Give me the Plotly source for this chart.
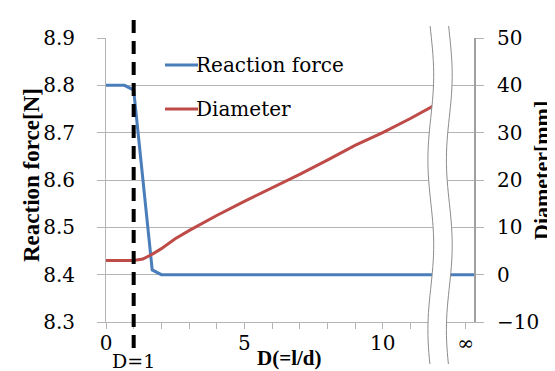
import numpy as np
import plotly.graph_objects as go

# ---- data ----
force_x = [0, 0.67, 1, 1.67, 2, 3, 4, 5, 6, 7, 8, 9, 10, 11, 12, 13.3]
force_y = [8.80, 8.80, 8.79, 8.41, 8.40, 8.40, 8.40, 8.40, 8.40, 8.40, 8.40, 8.40, 8.40, 8.40, 8.40, 8.40]

diam_x = [0, 0.67, 1, 1.33, 1.67, 2, 2.5, 3, 4, 5, 6, 7, 8, 9, 10, 11, 12]
diam_y = [3.0, 3.0, 3.0, 3.3, 4.3, 5.5, 7.6, 9.3, 12.5, 15.5, 18.3, 21.2, 24.2, 27.3, 30.0, 33.0, 36.2]

x_tick_vals = list(range(0, 14))
x_tick_text = ['0', '', '', '', '', '5', '', '', '', '', '10', '', '', '\u221e']
y1_ticks = [8.3, 8.4, 8.5, 8.6, 8.7, 8.8, 8.9]
y2_ticks = [-10, 0, 10, 20, 30, 40, 50]

BLUE = '#4a7ebb'
RED = '#be4b48'
GRID = '#b4b4b4'
REG = 'DejaVu Serif'          # regular serif face available
BOLD = 'Liberation Serif'     # bold serif face available

W, H = 555, 371
L, R, T, B = 98, 89, 30, 57
PW, PH = W - L - R, H - T - B
XMAX = 13.3


def px2x(px):
    return (px - L) / PW * XMAX


def py2paper(py):
    return (H - B - py) / PH


fig = go.Figure()
fig.add_trace(go.Scatter(x=force_x, y=force_y, mode='lines', name='Reaction force',
                         line=dict(color=BLUE, width=3), yaxis='y'))
fig.add_trace(go.Scatter(x=diam_x, y=diam_y, mode='lines', name='Diameter',
                         line=dict(color=RED, width=3), yaxis='y2'))

shapes = []
shapes.append(dict(type='line', xref='x', yref='paper', x0=1, x1=1,
                   y0=py2paper(12), y1=py2paper(343),
                   line=dict(color='black', width=4, dash='13px,8px')))

ys = np.linspace(18, 356, 60)
lx = 422.8 + 2.9 * np.cos(2 * np.pi * (ys - 67) / 170)
rx = lx + 18.5
left_pts = [(px2x(a), py2paper(b)) for a, b in zip(lx, ys)]
right_pts = [(px2x(a), py2paper(b)) for a, b in zip(rx, ys)]


def pth(pts, close=False):
    s = 'M ' + ' L '.join(f'{a:.4f},{b:.4f}' for a, b in pts)
    return s + (' Z' if close else '')


shapes.append(dict(type='path', xref='x', yref='paper',
                   path=pth(left_pts + right_pts[::-1], close=True),
                   fillcolor='white', line=dict(width=0), layer='above'))
shapes.append(dict(type='path', xref='x', yref='paper', path=pth(left_pts),
                   line=dict(color='#8c8c8c', width=1), layer='above'))
shapes.append(dict(type='path', xref='x', yref='paper', path=pth(right_pts),
                   line=dict(color='#8c8c8c', width=1), layer='above'))

for yy, col in [(57, BLUE), (101, RED)]:
    shapes.append(dict(type='line', xref='paper', yref='paper',
                       x0=(157 - L) / PW, x1=(190 - L) / PW,
                       y0=py2paper(yy), y1=py2paper(yy),
                       line=dict(color=col, width=3)))

annotations = [
    dict(text='Reaction force', xref='paper', yref='paper', x=(186 - L) / PW, y=py2paper(57),
         xanchor='left', yanchor='middle', showarrow=False, font=dict(family=REG, size=20, color='black')),
    dict(text='Diameter', xref='paper', yref='paper', x=(186 - L) / PW, y=py2paper(101),
         xanchor='left', yanchor='middle', showarrow=False, font=dict(family=REG, size=20, color='black')),
    dict(text='<b>Reaction force[N]</b>', xref='paper', yref='paper', x=(23 - L) / PW, y=py2paper(167),
         xanchor='center', yanchor='middle', textangle=-90, showarrow=False,
         font=dict(family=BOLD, size=23, color='black')),
    dict(text='<b>Diameter[mm]</b>', xref='paper', yref='paper', x=(533 - L) / PW, y=py2paper(163),
         xanchor='center', yanchor='middle', textangle=-90, showarrow=False,
         font=dict(family=BOLD, size=22, color='black')),
    dict(text='<b>D(=l/d)</b>', xref='paper', yref='paper', x=(281 - L) / PW, y=py2paper(350),
         xanchor='center', yanchor='middle', showarrow=False, font=dict(family=BOLD, size=21, color='black')),
    dict(text='D=1', xref='x', yref='paper', x=1, y=py2paper(353),
         xanchor='center', yanchor='middle', showarrow=False, font=dict(family=REG, size=19, color='black')),
]

fig.update_layout(
    width=W, height=H,
    margin=dict(l=L, r=R, t=T, b=B, pad=0),
    paper_bgcolor='white', plot_bgcolor='white',
    showlegend=False,
    font=dict(family=REG, size=20, color='black'),
    xaxis=dict(range=[0, XMAX], tickmode='array', tickvals=x_tick_vals, ticktext=x_tick_text,
               showgrid=False, zeroline=False, showline=True, linecolor=GRID, linewidth=1,
               ticks='outside', ticklen=6, tickcolor=GRID, ticklabelstandoff=-3,
               tickfont=dict(family=REG, size=20, color='black')),
    yaxis=dict(range=[8.3, 8.9], tickmode='array', tickvals=y1_ticks, tickformat='.1f',
               showgrid=True, gridcolor=GRID, gridwidth=1, zeroline=False,
               showline=True, linecolor=GRID, linewidth=1,
               ticks='outside', ticklen=8, tickcolor=GRID, ticklabelstandoff=18,
               tickfont=dict(family=REG, size=20, color='black')),
    yaxis2=dict(range=[-10, 50], tickmode='array', tickvals=y2_ticks, overlaying='y', side='right',
                showgrid=False, zeroline=False, showline=True, linecolor='#a0a0a0', linewidth=2,
                ticks='outside', ticklen=8, tickcolor=GRID, ticklabelstandoff=9,
                tickfont=dict(family=REG, size=20, color='black')),
    shapes=shapes,
    annotations=annotations,
)

fig.write_html('out.html')
